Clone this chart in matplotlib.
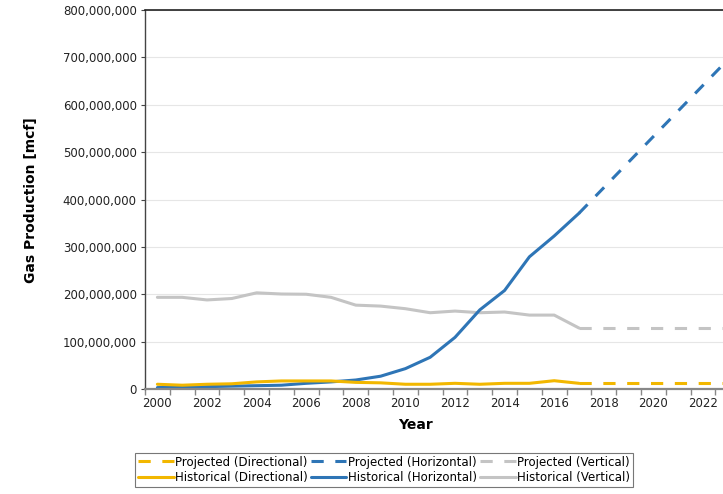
import matplotlib
matplotlib.use("Agg")
import matplotlib.pyplot as plt
from matplotlib.ticker import FuncFormatter, FixedLocator

hist_years = list(range(2000, 2018))
proj_years = list(range(2017, 2026))

# historical gas production, mcf
hist_directional = [10e6, 8e6, 10e6, 11e6, 15e6, 17e6, 17e6, 17e6, 14e6, 13e6,
                    10e6, 10e6, 12e6, 10e6, 12e6, 12e6, 17.5e6, 12e6]
hist_horizontal = [3e6, 4e6, 5e6, 6e6, 7e6, 8e6, 12e6, 15e6, 19e6, 27e6,
                   43e6, 67e6, 109e6, 167e6, 208e6, 279e6, 323e6, 371e6]
hist_vertical = [193.5e6, 193.5e6, 188e6, 191e6, 203e6, 200.5e6, 200e6, 193.5e6, 177e6, 175e6,
                 169.5e6, 161e6, 164.5e6, 161e6, 162.5e6, 156e6, 156e6, 128.7e6]

# projections
proj_directional = [12e6] * len(proj_years)
proj_horizontal = [371e6, 425e6, 479e6, 533e6, 587e6, 641e6, 695e6, 749e6, 803e6]
proj_vertical = [128.7e6] * len(proj_years)

year_labels = list(range(2000, 2023, 2))

YELLOW = "#F2B700"
BLUE = "#2E75B6"
GREY = "#C4C4C4"
LW = 2.2
DASH = (4, 3.8)

fig = plt.figure(figsize=(7.23, 4.94), dpi=100)
W, H = 723, 494
yr_px = 24.8
x0, x1 = 1999.5, 2025.5
ax = fig.add_axes([145 / W, 105 / H, (x1 - x0) * yr_px / W, 379 / H])

pd_, = ax.plot(proj_years, proj_directional, color=YELLOW, lw=LW, dashes=DASH,
               label="Projected (Directional)")
ph, = ax.plot(proj_years, proj_horizontal, color=BLUE, lw=LW, dashes=DASH,
              label="Projected (Horizontal)")
pv, = ax.plot(proj_years, proj_vertical, color=GREY, lw=LW, dashes=DASH,
              label="Projected (Vertical)")
hv, = ax.plot(hist_years, hist_vertical, color=GREY, lw=LW, label="Historical (Vertical)")
hh, = ax.plot(hist_years, hist_horizontal, color=BLUE, lw=LW, label="Historical (Horizontal)")
hd, = ax.plot(hist_years, hist_directional, color=YELLOW, lw=LW, label="Historical (Directional)")
for ln in (pd_, ph, pv, hv, hh, hd):
    ln.set_solid_capstyle("round")
    ln.set_dash_capstyle("butt")

ax.set_xlim(x0, x1)
ax.set_ylim(0, 800e6)

# category axis: labels every 2 years, tick marks on category boundaries
ax.xaxis.set_major_locator(FixedLocator(year_labels))
ax.xaxis.set_minor_locator(FixedLocator([y + 0.5 for y in range(1999, 2026)]))
ax.tick_params(axis="x", which="major", length=0, pad=6, labelsize=8.5, labelcolor="#222222")
ax.tick_params(axis="x", which="minor", length=4, width=1, color="#888888", direction="out")
ax.set_yticks([i * 100e6 for i in range(9)])
ax.yaxis.set_major_formatter(FuncFormatter(lambda v, p: f"{int(v):,}"))
ax.tick_params(axis="y", length=3, width=0.8, color="#444444", labelsize=8.5,
               labelcolor="#222222", pad=3)
ax.grid(axis="y", color="#E6E6E6", lw=0.8)
ax.set_axisbelow(True)

ax.spines["right"].set_visible(False)
ax.spines["top"].set_color("#222222")
ax.spines["top"].set_linewidth(1.2)
ax.spines["left"].set_color("#444444")
ax.spines["left"].set_linewidth(1.0)
ax.spines["bottom"].set_color("#888888")
ax.spines["bottom"].set_linewidth(1.6)

fig.text(31 / W, 1 - 200 / H, "Gas Production [mcf]", rotation=90, ha="center", va="center",
         fontsize=10, fontweight="bold")
fig.text(415 / W, 1 - 425 / H, "Year", ha="center", va="center", fontsize=10, fontweight="bold")

handles = [pd_, hd, ph, hh, pv, hv]
leg = fig.legend(handles=handles, labels=[h.get_label() for h in handles], ncol=3,
                 loc="center", bbox_to_anchor=(384 / W, 1 - 470 / H), fontsize=8.5,
                 frameon=True, fancybox=False, edgecolor="#555555", handlelength=3.0,
                 handletextpad=0.1, columnspacing=0.3, labelspacing=0.25,
                 borderpad=0.25, borderaxespad=0)
leg.get_frame().set_linewidth(0.8)

fig.savefig("out.png", dpi=100)
